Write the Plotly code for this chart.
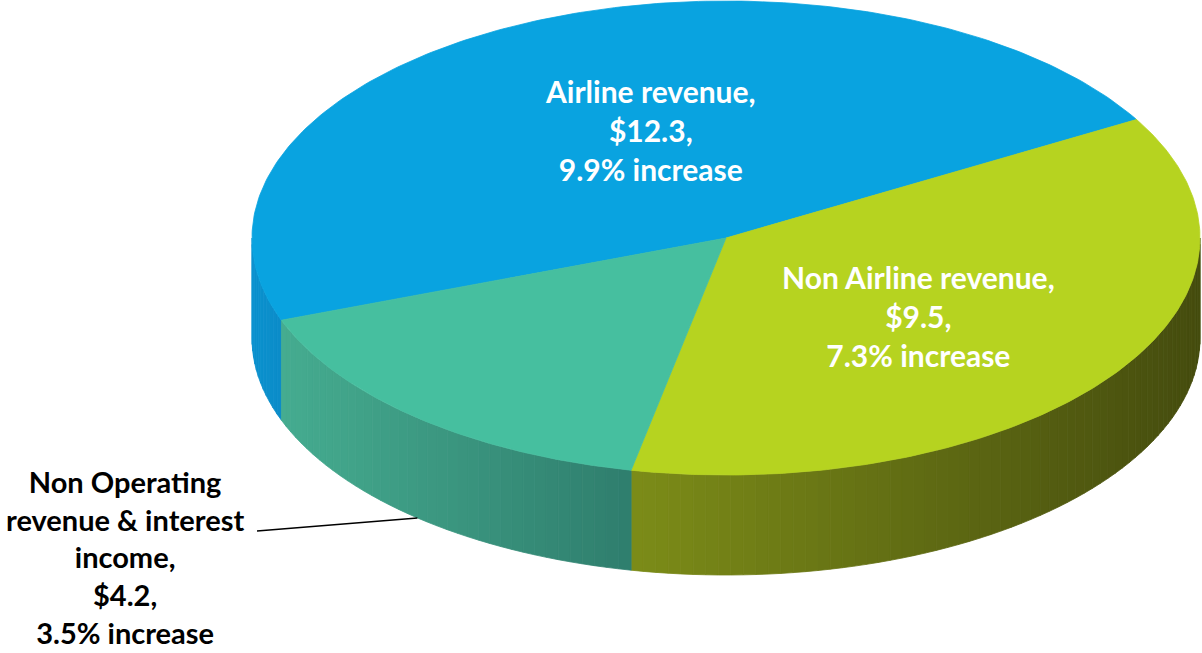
import numpy as np
import plotly.graph_objects as go

# ---- data ----
categories = ["Airline revenue", "Non Airline revenue", "Non Operating revenue & interest income"]
values = [12.3, 9.5, 4.2]
increases = ["9.9%", "7.3%", "3.5%"]
label_lines = [
    ["Airline revenue,", "$12.3,", "9.9% increase"],
    ["Non Airline revenue,", "$9.5,", "7.3% increase"],
    ["Non Operating", "revenue & interest", "income,", "$4.2,", "3.5% increase"],
]

# ---- style / geometry ----
top_colors = ["#09A3E0", "#B6D320", "#46BF9F"]
side_colors = [("#0B92CF", "#0B8CC8"), ("#7C8C18", "#454C0E"), ("#45AC90", "#2F7E6D")]
CX, CY, RX, RY, DEPTH = 726, 238, 474, 237, 100
START = 200.3  # parametric angle (deg) of first slice edge, slices go clockwise
label_pos = [(650, 130), (918, 316), (125, 557)]
label_sizes = [30, 30, 29]
label_colors = ["white", "white", "black"]
FONT = "Lato"


def ell(t, dy=0.0):
    r = np.radians(t)
    return CX + RX * np.cos(r), CY - RY * np.sin(r) + dy


def hex2rgb(h):
    h = h.lstrip("#")
    return np.array([int(h[i:i + 2], 16) for i in (0, 2, 4)], dtype=float)


def mix(c0, c1, f):
    c = hex2rgb(c0) * (1 - f) + hex2rgb(c1) * f
    return "rgb(%d,%d,%d)" % tuple(np.round(c).astype(int))


fig = go.Figure()
total = sum(values)
edges = []
a0 = START
for v in values:
    a1 = a0 - 360.0 * v / total
    edges.append((a0, a1))
    a0 = a1

# ---- side faces (front half only) with horizontal gradient ----
for i, (s0, s1) in enumerate(edges):
    lo, hi = s1, s0
    for shift in (-360, 0, 360):
        l2, h2 = max(lo + shift, 180), min(hi + shift, 360)
        if h2 <= l2:
            continue
        xa, _ = ell(l2)
        xb, _ = ell(h2)
        n = max(2, int((h2 - l2) / 1.5))
        ts = np.linspace(l2, h2, n + 1)
        for k in range(n):
            tt = np.linspace(ts[k], ts[k + 1], 6)
            xt, yt = ell(tt)
            xbm, ybm = ell(tt[::-1], DEPTH)
            xs = np.concatenate([xt, xbm, xt[:1]])
            ys = np.concatenate([yt, ybm, yt[:1]])
            xm, _ = ell((ts[k] + ts[k + 1]) / 2)
            f = (xm - xa) / (xb - xa) if xb != xa else 0
            col = mix(side_colors[i][0], side_colors[i][1], min(max(f, 0), 1))
            fig.add_trace(go.Scatter(x=xs, y=ys, mode="lines", fill="toself",
                                     fillcolor=col, line=dict(color=col, width=0.8),
                                     hoverinfo="skip", showlegend=False))

# ---- top faces ----
for i, (s0, s1) in enumerate(edges):
    tt = np.linspace(s0, s1, 200)
    xa, ya = ell(tt)
    xs = np.concatenate([[CX], xa, [CX]])
    ys = np.concatenate([[CY], ya, [CY]])
    fig.add_trace(go.Scatter(x=xs, y=ys, mode="lines", fill="toself",
                             fillcolor=top_colors[i], line=dict(color=top_colors[i], width=0.8),
                             hoverinfo="skip", showlegend=False,
                             name=categories[i]))

# ---- leader line for the outside label ----
s0, s1 = edges[2]
mid = (s0 + s1) / 2
lx, ly = ell(mid, DEPTH)
fig.add_trace(go.Scatter(x=[257, lx], y=[531, ly], mode="lines",
                         line=dict(color="black", width=1.5),
                         hoverinfo="skip", showlegend=False))

# ---- labels ----
for i, lines in enumerate(label_lines):
    fig.add_annotation(x=label_pos[i][0], y=label_pos[i][1], xref="x", yref="y",
                       text="<br>".join("<b>%s</b>" % l for l in lines),
                       showarrow=False, align="center", borderpad=0,
                       font=dict(family=FONT, size=label_sizes[i], color=label_colors[i]))

fig.update_layout(
    width=1202, height=653,
    margin=dict(l=0, r=0, t=0, b=0),
    paper_bgcolor="white", plot_bgcolor="white",
    xaxis=dict(range=[0, 1202], visible=False, fixedrange=True),
    yaxis=dict(range=[653, 0], visible=False, fixedrange=True),
    showlegend=False,
)

fig.write_html("out.html", config={"displayModeBar": False},
               post_script="document.body.style.margin='0px';document.body.style.overflow='hidden';")
